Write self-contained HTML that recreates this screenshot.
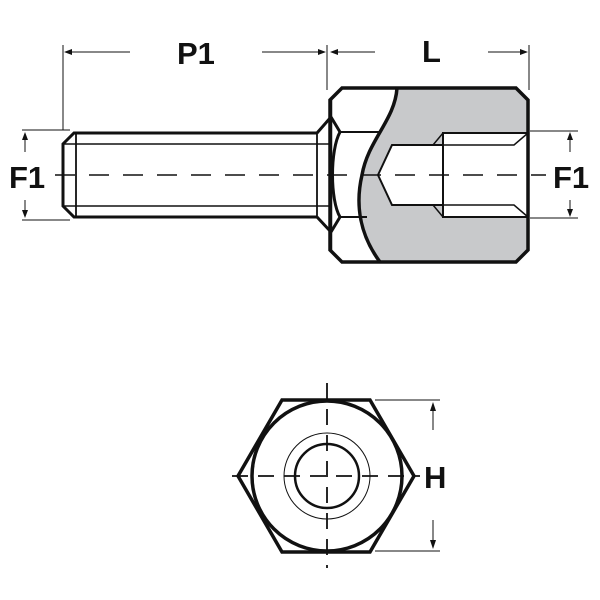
<!DOCTYPE html>
<html><head><style>body{margin:0;background:#fff}svg{display:block}</style></head><body>
<svg width="600" height="600" viewBox="0 0 600 600" xmlns="http://www.w3.org/2000/svg" font-family="Liberation Sans, sans-serif" font-weight="bold">
<g fill="none" stroke="#111">
<path d="M397,88 L516,88 L528,100 L528,250 L516,262 L380,262 C360,235 355,205 362,175 C368,140 395,120 397,88 Z" fill="#c8c9cb" stroke="none"/>
<path d="M443,133 L528,133 L528,217 L443,217 Z" fill="#fff" stroke="#111" stroke-width="2"/>
<path d="M392,145 L443,145 L443,205 L392,205 L378,175 Z" fill="#fff" stroke="#111" stroke-width="2"/>
<path d="M433,145 L443,133 M433,205 L443,217 M443,145 L514,145 L528,133 M443,205 L514,205 L528,217" stroke-width="1.5"/>
<path d="M342,88 L516,88 L528,100 L528,250 L516,262 L342,262 L330,250 L330,100 Z" stroke-width="3.5"/>
<path d="M397,88 C395,120 368,140 362,175 C355,205 360,235 380,262" stroke-width="3.5"/>
<path d="M340,132 L380,132 M340,217 L367,217" stroke-width="2"/>
<path d="M331,117 L340,132 C330,150 330,200 340,217 L331,232" stroke-width="3"/>
<path d="M331,100 L331,250" stroke-width="2.5"/>
<path d="M317,133 L74,133 L63,144 L63,206 L74,217 L317,217" stroke-width="3"/>
<path d="M317,133 L331,117 M317,217 L331,232" stroke-width="3"/>
<path d="M317,133 L317,217 M76,133 L76,217" stroke-width="1.8"/>
<path d="M63,144 L331,144 M63,206 L331,206" stroke-width="1.5"/>
<path d="M55,175 L546,175" stroke-width="1.5" stroke-dasharray="20,14"/>
<g stroke-width="1">
<path d="M63,130 L63,45 M327,90 L327,45 M529,90 L529,45"/>
<path d="M68,52 L130,52 M262,52 L322,52 M334,52 L375,52 M488,52 L524,52"/>
<path d="M22,130 L70,130 M22,220 L70,220 M530,131 L578,131 M530,218 L578,218"/>
<path d="M25,138 L25,152 M25,200 L25,212 M570,138 L570,152 M570,200 L570,212"/>
<path d="M375,400 L440,400 M375,551 L440,551 M433,410 L433,430 M433,520 L433,542"/>
</g>
</g>
<g fill="#111">
<path d="M64,52 L72,49 L72,55Z M326,52 L318,49 L318,55Z M330,52 L338,49 L338,55Z M528,52 L520,49 L520,55Z"/>
<path d="M25,132 L22,140 L28,140Z M25,218 L22,210 L28,210Z M570,132 L567,140 L573,140Z M570,217 L567,209 L573,209Z"/>
<path d="M433,402 L430,411 L436,411Z M433,549 L430,540 L436,540Z"/>
</g>
<g fill="none" stroke="#111">
<path d="M282,400 L370,400 L414,476 L370,552 L282,552 L238,476 Z" stroke-width="3.5"/>
<circle cx="327" cy="476" r="75" stroke-width="3.5"/>
<circle cx="327" cy="476" r="43" stroke-width="1"/>
<circle cx="327" cy="476" r="32" stroke-width="2.5"/>
<path d="M327,383 L327,568 M232,476 L420,476" stroke-width="1.8" stroke-dasharray="16,10"/>
</g>
<g font-size="31" fill="#111">
<text x="177" y="64">P1</text>
<text x="422" y="62">L</text>
<text x="9" y="188">F1</text>
<text x="553" y="188">F1</text>
<text x="424" y="488">H</text>
</g>
</svg>
</body></html>
